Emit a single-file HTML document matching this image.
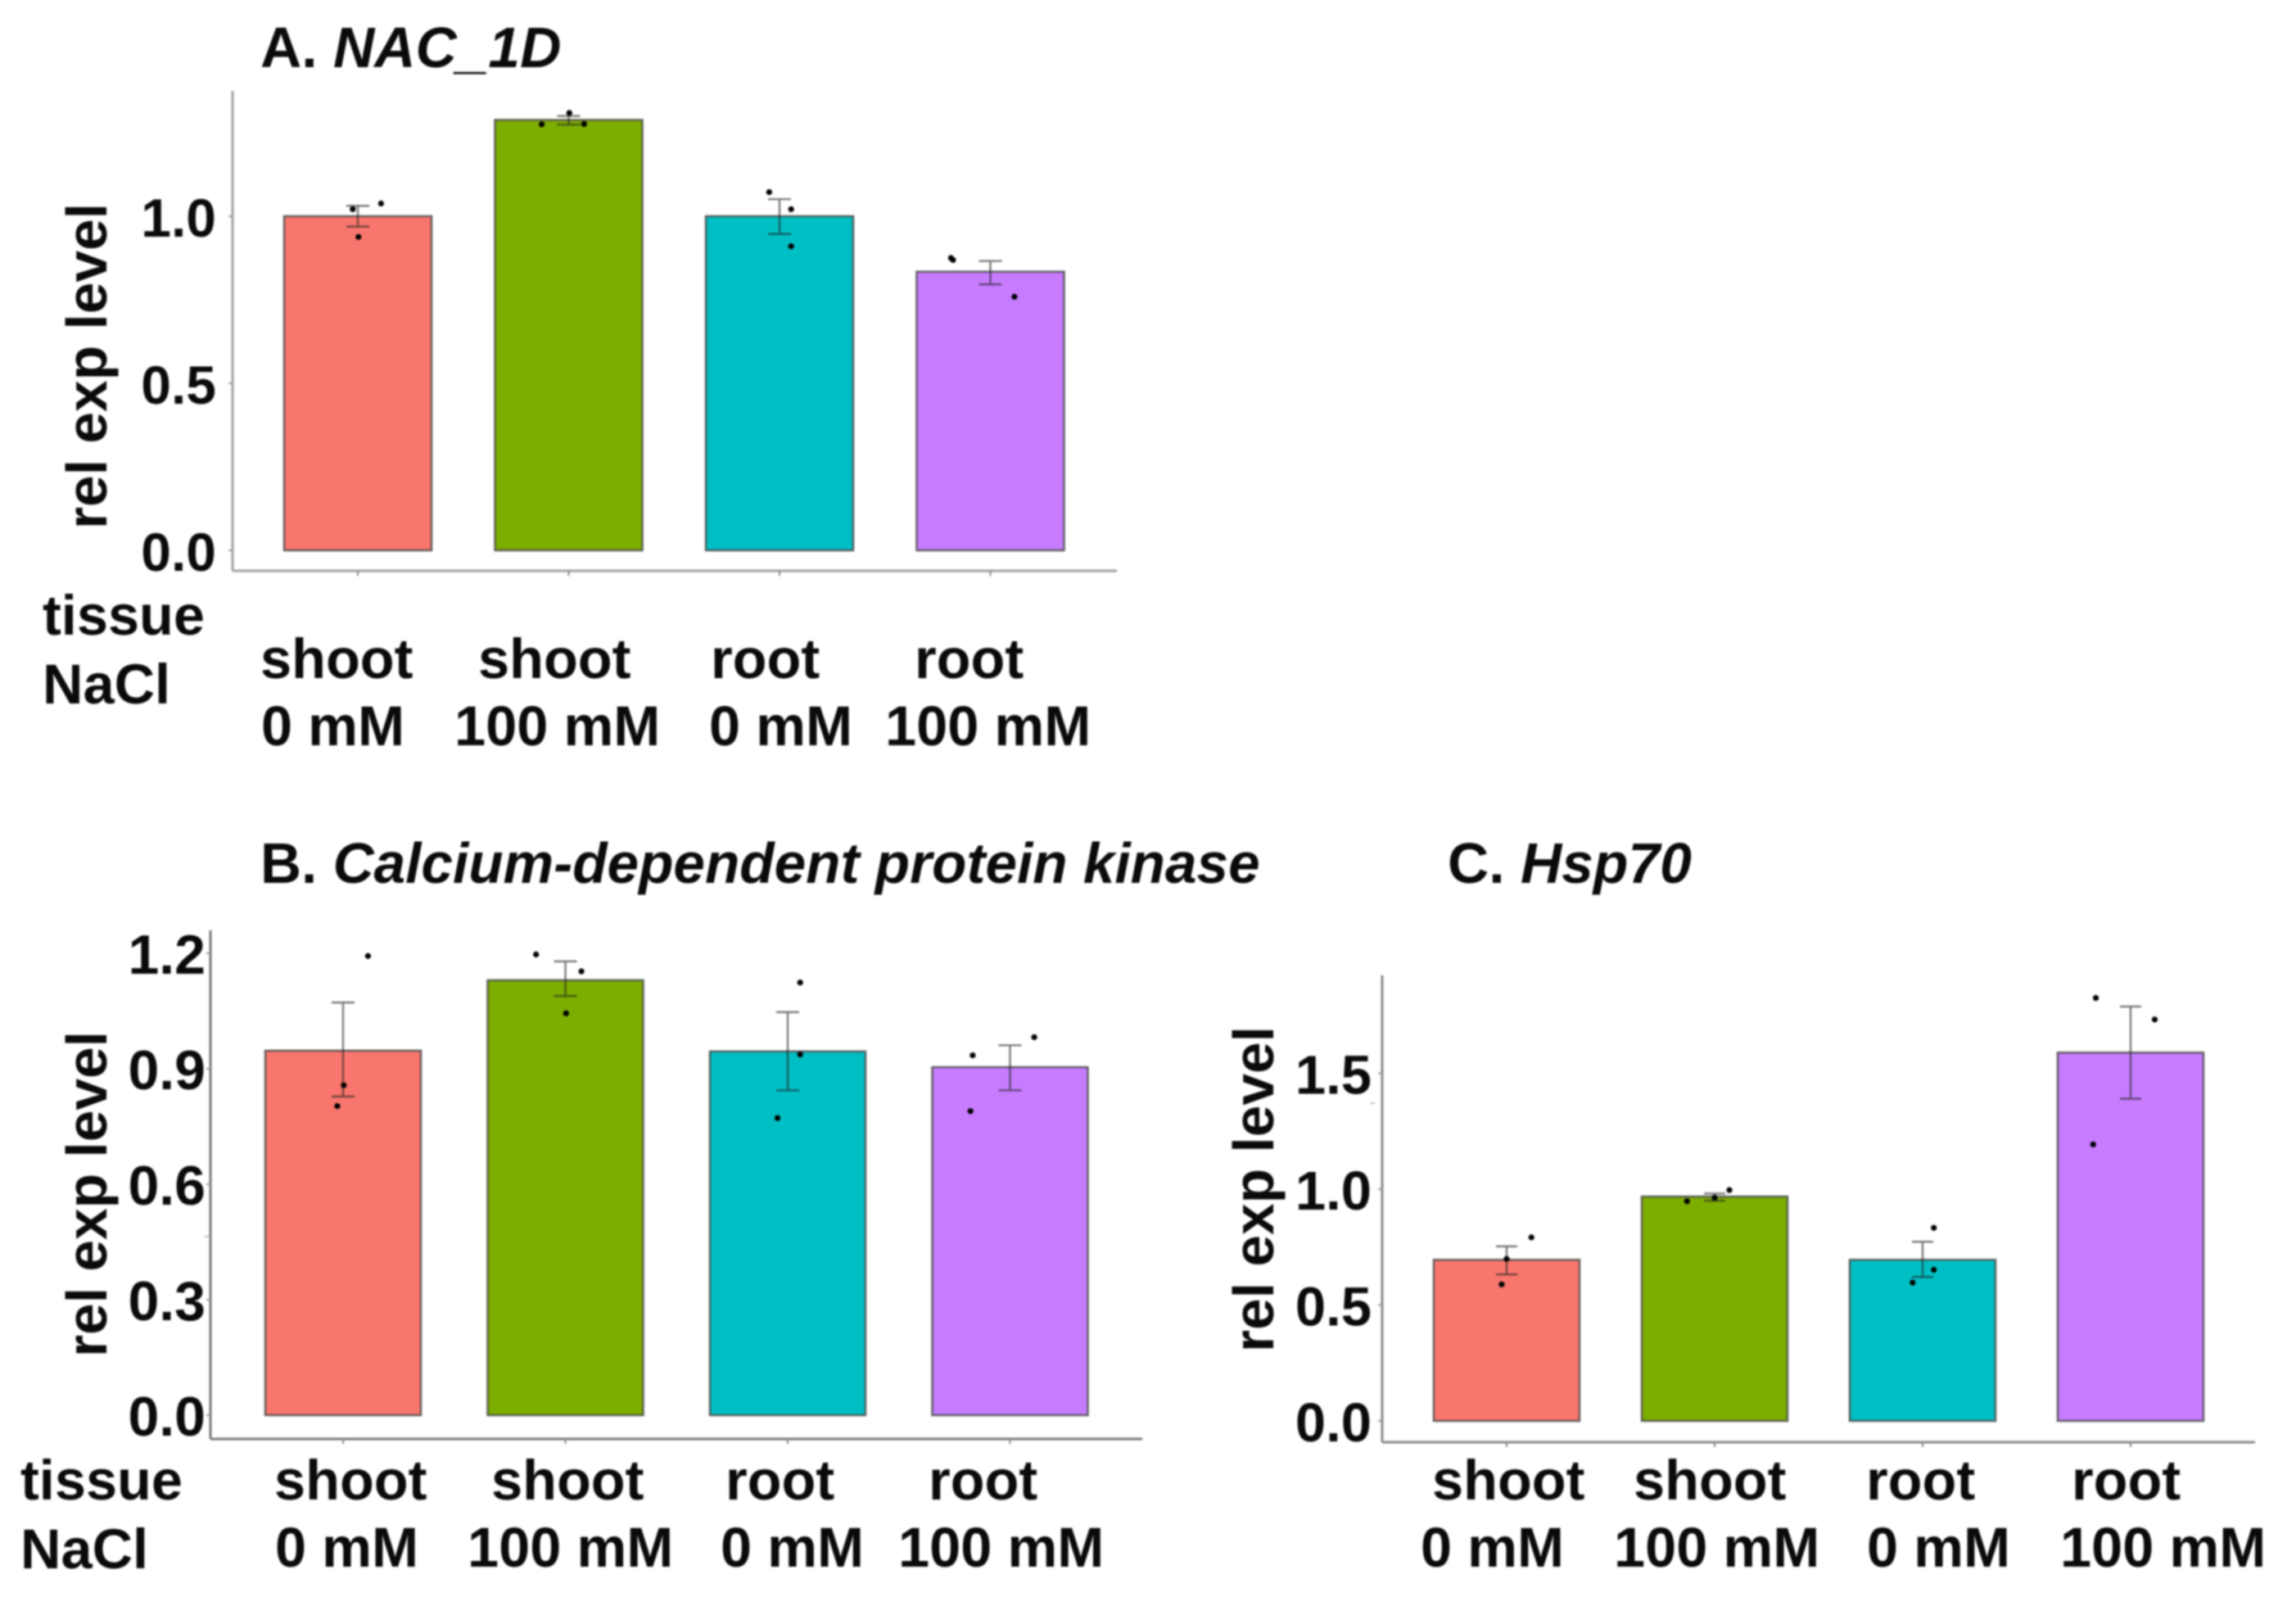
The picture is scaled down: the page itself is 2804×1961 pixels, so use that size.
<!DOCTYPE html>
<html lang="en">
<head>
<meta charset="utf-8">
<title>Relative expression levels</title>
<style>
html,body{margin:0;padding:0;background:#fff;}
svg{display:block;filter:blur(1px);}
text{font-family:"Liberation Sans",Arial,sans-serif;font-weight:700;fill:#0a0a0a;}
.lab{font-size:68.5px;}
.axt{font-size:69.5px;}
.title{font-size:69.6px;}
.title-b{font-size:69.3px;}
</style>
</head>
<body>
<svg id="chart" xmlns="http://www.w3.org/2000/svg" width="2804" height="1961" viewBox="0 0 2804 1961">
  <rect x="0" y="0" width="2804" height="1961" fill="#fff"/>
  <g id="panel-a">
    <text class="title" x="318" y="82">A. <tspan font-style="italic">NAC_1D</tspan></text>
    <text class="axt" transform="translate(130,447) rotate(-90)" text-anchor="middle">rel exp level</text>
    <text class="lab" x="52" y="775">tissue</text>
    <text class="lab" x="52" y="859">NaCl</text>
    <text class="lab" x="318" y="828">shoot</text>
    <text class="lab" x="584" y="828">shoot</text>
    <text class="lab" x="868" y="828">root</text>
    <text class="lab" x="1117" y="828">root</text>
    <text class="lab" x="319" y="910">0 mM</text>
    <text class="lab" x="555" y="910">100 mM</text>
    <text class="lab" x="866" y="910">0 mM</text>
    <text class="lab" x="1081" y="910">100 mM</text>
  </g>
  <g id="panel-b">
    <text class="title-b" x="318" y="1078">B. <tspan font-style="italic">Calcium-dependent protein kinase</tspan></text>
    <text class="axt" transform="translate(130,1458) rotate(-90)" text-anchor="middle">rel exp level</text>
    <text class="lab" x="25" y="1831">tissue</text>
    <text class="lab" x="25" y="1915">NaCl</text>
    <text class="lab" x="335" y="1831">shoot</text>
    <text class="lab" x="600" y="1831">shoot</text>
    <text class="lab" x="886" y="1831">root</text>
    <text class="lab" x="1134" y="1831">root</text>
    <text class="lab" x="336" y="1913">0 mM</text>
    <text class="lab" x="571" y="1913">100 mM</text>
    <text class="lab" x="880" y="1913">0 mM</text>
    <text class="lab" x="1097" y="1913">100 mM</text>
    <line x1="250" x2="255" y1="1510" y2="1510" stroke="#bbb" stroke-width="2"/>
  </g>
  <g id="panel-c">
    <text class="title" x="1768" y="1078">C. <tspan font-style="italic">Hsp70</tspan></text>
    <text class="axt" transform="translate(1555,1452) rotate(-90)" text-anchor="middle">rel exp level</text>
    <text class="lab" x="1749" y="1831">shoot</text>
    <text class="lab" x="1995" y="1831">shoot</text>
    <text class="lab" x="2279" y="1831">root</text>
    <text class="lab" x="2530" y="1831">root</text>
    <text class="lab" x="1735" y="1913">0 mM</text>
    <text class="lab" x="1971" y="1913">100 mM</text>
    <text class="lab" x="2280" y="1913">0 mM</text>
    <text class="lab" x="2516" y="1913">100 mM</text>
    <line x1="1674" x2="1679" y1="1347" y2="1347" stroke="#bbb" stroke-width="2"/>
  </g>
</svg>
<script>
const categories = ['shoot-0mm', 'shoot-100mm', 'root-0mm', 'root-100mm'];

const nacTicks = [0, 0.5, 1];
const nacMeans = [1.0, 1.288, 1.0, 0.834];
const nacErrLow = [0.969, 1.274, 0.947, 0.796];
const nacErrHigh = [1.031, 1.30, 1.051, 0.866];
const nacPoints = [[1.038, 1.021, 0.938], [1.275, 1.309, 1.276], [1.072, 1.021, 0.910], [0.869, 0.875, 0.759]];
const nacJitter = [[0.11, -0.024, 0.003], [-0.128, 0.003, 0.073], [-0.049, 0.055, 0.055], [-0.177, -0.187, 0.114]];

const cdpkTicks = [0, 0.3, 0.6, 0.9, 1.2];
const cdpkMeans = [0.947, 1.130, 0.945, 0.904];
const cdpkErrLow = [0.828, 1.089, 0.844, 0.844];
const cdpkErrHigh = [1.072, 1.179, 1.047, 0.961];
const cdpkPoints = [[1.193, 0.857, 0.803], [1.197, 1.153, 1.044], [1.124, 0.937, 0.772], [0.982, 0.935, 0.790]];
const cdpkJitter = [[0.112, 0.003, -0.026], [-0.132, 0.072, 0.003], [0.056, 0.056, -0.046], [0.109, -0.168, -0.178]];

const hspTicks = [0, 0.5, 1, 1.5];
const hspMeans = [0.695, 0.968, 0.695, 1.589];
const hspErrLow = [0.632, 0.950, 0.621, 1.390];
const hspErrHigh = [0.753, 0.981, 0.773, 1.788];
const hspPoints = [[0.792, 0.699, 0.589], [0.996, 0.963, 0.948], [0.833, 0.652, 0.597], [1.825, 1.732, 1.193]];
const hspJitter = [[0.119, 0, -0.024], [0.071, 0, -0.133], [0.054, 0.054, -0.048], [-0.167, 0.116, -0.18]];

const barColors = ['#F8766D', '#7CAE00', '#00BFC4', '#C77CFF'];
const SVGNS = 'http://www.w3.org/2000/svg';

function make(parent, tag, attrs) {
  const el = document.createElementNS(SVGNS, tag);
  for (const k in attrs) el.setAttribute(k, attrs[k]);
  parent.appendChild(el);
  return el;
}

function drawPanel(id, p) {
  const root = document.getElementById(id);
  const yScale = v => p.y0 - v * p.pxPerUnit;
  const xScale = i => p.firstCenter + i * p.step;

  const xAxis = make(root, 'line', {x1: p.axisX, x2: p.axisRight, y1: p.axisY, y2: p.axisY, stroke: p.axisColor, 'stroke-width': 3});
  
  
  const yAxis = make(root, 'line', {x1: p.axisX, x2: p.axisX, y1: p.axisTop, y2: p.axisY, stroke: p.axisColor, 'stroke-width': 3});
  
  

  p.ticks.forEach(t => {
    const y = yScale(t);
    const mark = make(root, 'line', {x1: p.axisX - 5, x2: p.axisX, y1: y, y2: y, stroke: '#999', 'stroke-width': 2});
    
    
    const label = make(root, 'text', {x: p.tickLabelRight, y: y + 25, 'text-anchor': 'end', 'font-size': p.tickFont});
    
    
    label.textContent = t.toFixed(1);
  });

  categories.forEach((cat, i) => {
    const cx = xScale(i);
    const top = yScale(p.means[i]);
    const bar = make(root, 'rect', {x: cx - p.barWidth / 2, y: top, width: p.barWidth, height: p.y0 - top, fill: barColors[i], stroke: '#4a4a4a', 'stroke-opacity': 0.85, 'stroke-width': 2.5});
    
    

    const xt = make(root, 'line', {x1: cx, x2: cx, y1: p.axisY, y2: p.axisY + 6, stroke: '#888', 'stroke-width': 2});
    
    

    const lo = yScale(p.errLow[i]);
    const hi = yScale(p.errHigh[i]);
    const err = make(root, 'path', {
      d: 'M' + (cx - p.cap) + ' ' + hi + 'H' + (cx + p.cap) + 'M' + cx + ' ' + hi + 'V' + lo + 'M' + (cx - p.cap) + ' ' + lo + 'H' + (cx + p.cap),
      fill: 'none', stroke: '#222', 'stroke-opacity': 0.65, 'stroke-width': 2.2
    });
    
    

    p.points[i].forEach((v, j) => {
      const dot = make(root, 'circle', {cx: cx + p.jitter[i][j] * p.step, cy: yScale(v), r: 3.6, fill: '#000'});
      
      
    });
  });
}

drawPanel('panel-a', {
  y0: 672, pxPerUnit: 408, firstCenter: 437, step: 257.5, barWidth: 180, cap: 14,
  axisX: 284, axisRight: 1364, axisTop: 111, axisY: 697, axisColor: '#a0a0a0', tickLabelRight: 264, tickFont: 66,
  ticks: nacTicks, means: nacMeans, errLow: nacErrLow, errHigh: nacErrHigh, points: nacPoints, jitter: nacJitter
});
drawPanel('panel-b', {
  y0: 1728, pxPerUnit: 470, firstCenter: 419, step: 271.5, barWidth: 190, cap: 14,
  axisX: 257, axisRight: 1395, axisTop: 1136, axisY: 1757, axisColor: '#777', tickLabelRight: 251, tickFont: 68,
  ticks: cdpkTicks, means: cdpkMeans, errLow: cdpkErrLow, errHigh: cdpkErrHigh, points: cdpkPoints, jitter: cdpkJitter
});
drawPanel('panel-c', {
  y0: 1735, pxPerUnit: 283, firstCenter: 1840, step: 254, barWidth: 178, cap: 13,
  axisX: 1688, axisRight: 2754, axisTop: 1191, axisY: 1761, axisColor: '#888', tickLabelRight: 1675, tickFont: 67,
  ticks: hspTicks, means: hspMeans, errLow: hspErrLow, errHigh: hspErrHigh, points: hspPoints, jitter: hspJitter
});
</script>
</body>
</html>
